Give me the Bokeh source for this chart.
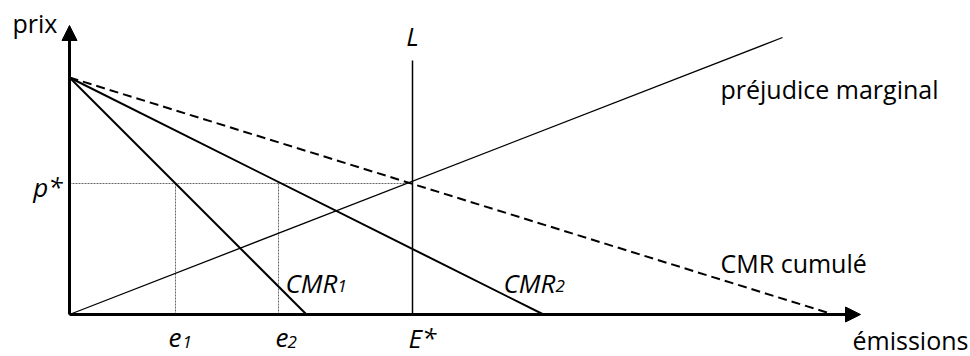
from bokeh.plotting import figure
from bokeh.models import Range1d, Arrow, NormalHead
from bokeh.core.properties import value
from bokeh.embed import file_html
from bokeh.resources import INLINE

# ---- data ----
price_max = 23.7          # common intercept of the cost curves
cmr1_xmax = 23.7          # CMR1 reaches zero
cmr2_xmax = 47.4          # CMR2 reaches zero
cum_xmax = 76.4           # CMR cumulé reaches zero
damage_x = [0, 71.3]      # préjudice marginal
damage_y = [0, 27.7]
p_star = 13.1
E_star = 34.3
L_top = 25.4
e_vals = [10.6, 20.9]
x_axis_end = 79.1
y_axis_end = 28.9

FONT = value("Open Sans")
DY = 1.0  # baseline correction for text rendering

p = figure(width=970, height=356, x_range=Range1d(-6.9, 90.1), y_range=Range1d(-4.2, 31.4),
           output_backend="svg", toolbar_location=None, min_border=0)
p.axis.visible = False
p.grid.visible = False
p.outline_line_color = None
p.background_fill_color = "white"

# dotted guide lines
p.segment(x0=[0], y0=[p_star], x1=[E_star], y1=[p_star], line_color="#666666", line_width=1, line_dash="2 1")
p.segment(x0=e_vals, y0=[0, 0], x1=e_vals, y1=[p_star, p_star], line_color="#666666", line_width=1, line_dash="2 1")

# cost curves
p.line(x=[0, cmr1_xmax], y=[price_max, 0], line_color="black", line_width=2)
p.line(x=[0, cmr2_xmax], y=[price_max, 0], line_color="black", line_width=2)
p.line(x=[0, cum_xmax], y=[price_max, 0], line_color="black", line_width=2, line_dash="9 5")

# marginal damage
p.line(x=damage_x, y=damage_y, line_color="black", line_width=1.3)

# L vertical
p.line(x=[E_star, E_star], y=[0, L_top], line_color="black", line_width=1.5)

# axes with arrows
p.add_layout(Arrow(end=NormalHead(size=15, fill_color="black", line_color="black"),
                   x_start=0, y_start=0, x_end=x_axis_end, y_end=0,
                   line_width=3, line_color="black"))
p.add_layout(Arrow(end=NormalHead(size=15, fill_color="black", line_color="black"),
                   x_start=0, y_start=0, x_end=0, y_end=y_axis_end,
                   line_width=3, line_color="black"))

def up(ys):
    return [y + DY for y in ys]

# upright labels
p.text(x=[-5.7, 65.1, 65.1, 78.3], y=up([28.2, 21.6, 4.2, -3.5]),
       text=["prix", "préjudice marginal", "CMR cumulé", "émissions"],
       text_font=FONT, text_font_size="25px", text_color="black",
       text_align="left", text_baseline="alphabetic")

# italic labels
p.text(x=[-0.7], y=up([11.8]), text=["p*"], text_font=FONT, text_font_size="26px",
       text_font_style="italic", text_align="right", text_baseline="alphabetic", text_color="black")
p.text(x=[34.3], y=up([26.9]), text=["L"], text_font=FONT, text_font_size="26px",
       text_font_style="italic", text_align="center", text_baseline="alphabetic", text_color="black")
p.text(x=[21.6, 43.4, 9.9, 20.6, 33.9], y=up([2.2, 2.2, -3.3, -3.3, -3.3]),
       text=["CMR", "CMR", "e", "e", "E*"], text_font=FONT, text_font_size="26px",
       text_font_style="italic", text_align="left", text_baseline="alphabetic", text_color="black")
# subscripts
p.text(x=[26.8, 48.6, 11.3, 21.8], y=up([1.9, 1.9, -3.7, -3.7]),
       text=["1", "2", "1", "2"], text_font=FONT, text_font_size="17px",
       text_font_style="italic", text_align="left", text_baseline="alphabetic", text_color="black")

open("out.html", "w").write(file_html(p, INLINE))
